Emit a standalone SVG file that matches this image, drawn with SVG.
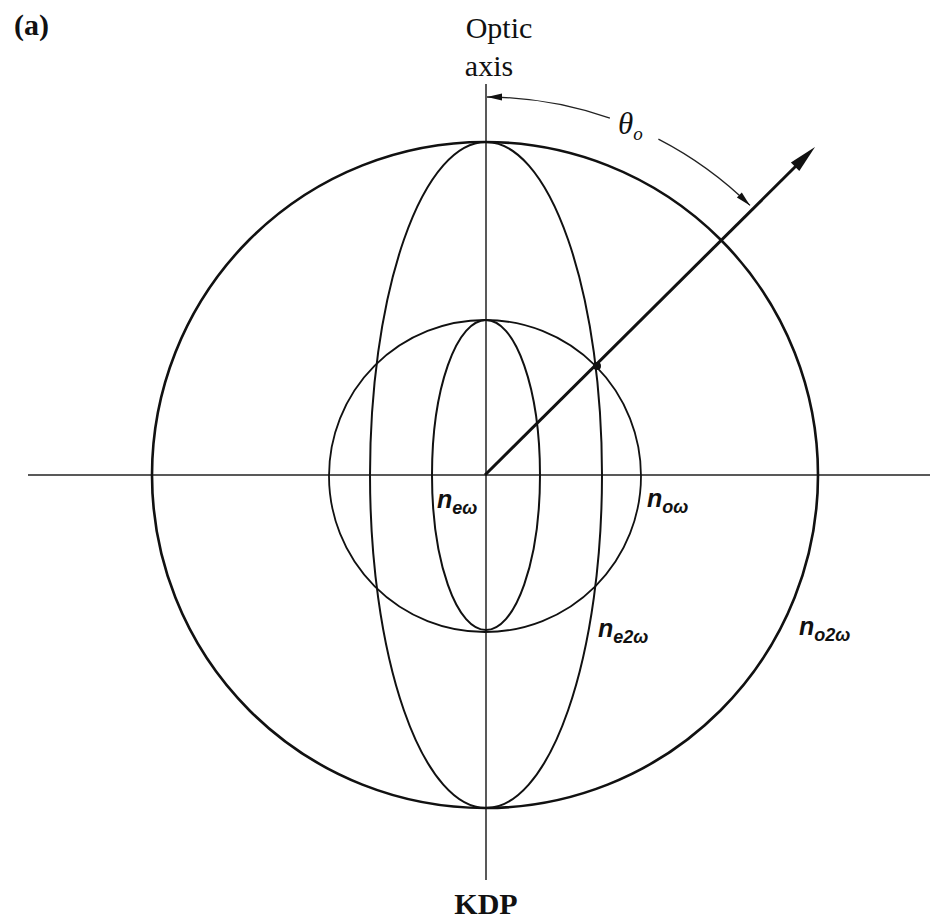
<svg xmlns="http://www.w3.org/2000/svg" width="930" height="919" viewBox="0 0 930 919">
<style>
.c{fill:none;stroke:#111}
.ax{stroke:#222;stroke-width:1.5;fill:none}
.lab{font-family:"Liberation Serif",serif;font-size:30px;fill:#111}
.n{font-family:"Liberation Sans",sans-serif;font-style:italic;font-weight:bold;fill:#111;font-size:25px}
.s{font-size:18px}
</style>
<rect width="930" height="919" fill="#fff"/>
<text class="lab" x="14" y="35" font-weight="bold" font-size="26">(a)</text>
<g id="axes">
<line class="ax" x1="486" y1="84" x2="486" y2="880"/>
<line class="ax" x1="28" y1="475" x2="930" y2="475"/>
</g>
<g id="n_o2w">
<circle class="c" cx="485" cy="475" r="333" stroke-width="2.6"/>
<text class="n" x="799" y="635">n<tspan class="s" dy="6">o2ω</tspan></text>
</g>
<g id="n_e2w">
<ellipse class="c" cx="486" cy="475" rx="116" ry="333" stroke-width="2"/>
<text class="n" x="598" y="637">n<tspan class="s" dy="6">e2ω</tspan></text>
</g>
<g id="n_ow">
<circle class="c" cx="485" cy="476" r="156" stroke-width="1.8"/>
<text class="n" x="647" y="507">n<tspan class="s" dy="6">oω</tspan></text>
</g>
<g id="n_ew">
<ellipse class="c" cx="486" cy="475" rx="54" ry="155" stroke-width="2"/>
<text class="n" x="437" y="508">n<tspan class="s" dy="6">eω</tspan></text>
</g>
<g id="labels">
<text class="lab" x="499" y="38" text-anchor="middle">Optic</text>
<text class="lab" x="489" y="76" text-anchor="middle">axis</text>
<text class="lab" x="486" y="914" text-anchor="middle" font-weight="bold" font-size="31">KDP</text>
</g>
<g id="connectors">
<line x1="485" y1="475" x2="800" y2="162" stroke="#111" stroke-width="3"/>
<polygon points="815,147 799.3,171.1 790.9,162.5" fill="#111"/>
<circle cx="597" cy="366" r="4" fill="#111"/>
<path d="M487,97 A378,378 0 0 1 609.9,118.2" fill="none" stroke="#222" stroke-width="1.3"/>
<path d="M658.4,139.1 A378,378 0 0 1 750,205.4" fill="none" stroke="#222" stroke-width="1.3"/>
<polygon points="487,97 502,93.5 502,100.5" fill="#111"/>
<polygon points="750,205.4 736.9,197.4 741.8,192.4" fill="#111"/>
<text x="618" y="134" font-family="Liberation Serif,serif" font-style="italic" font-size="31" fill="#111">θ<tspan font-size="19" dy="6">o</tspan></text>
</g>
</svg>
